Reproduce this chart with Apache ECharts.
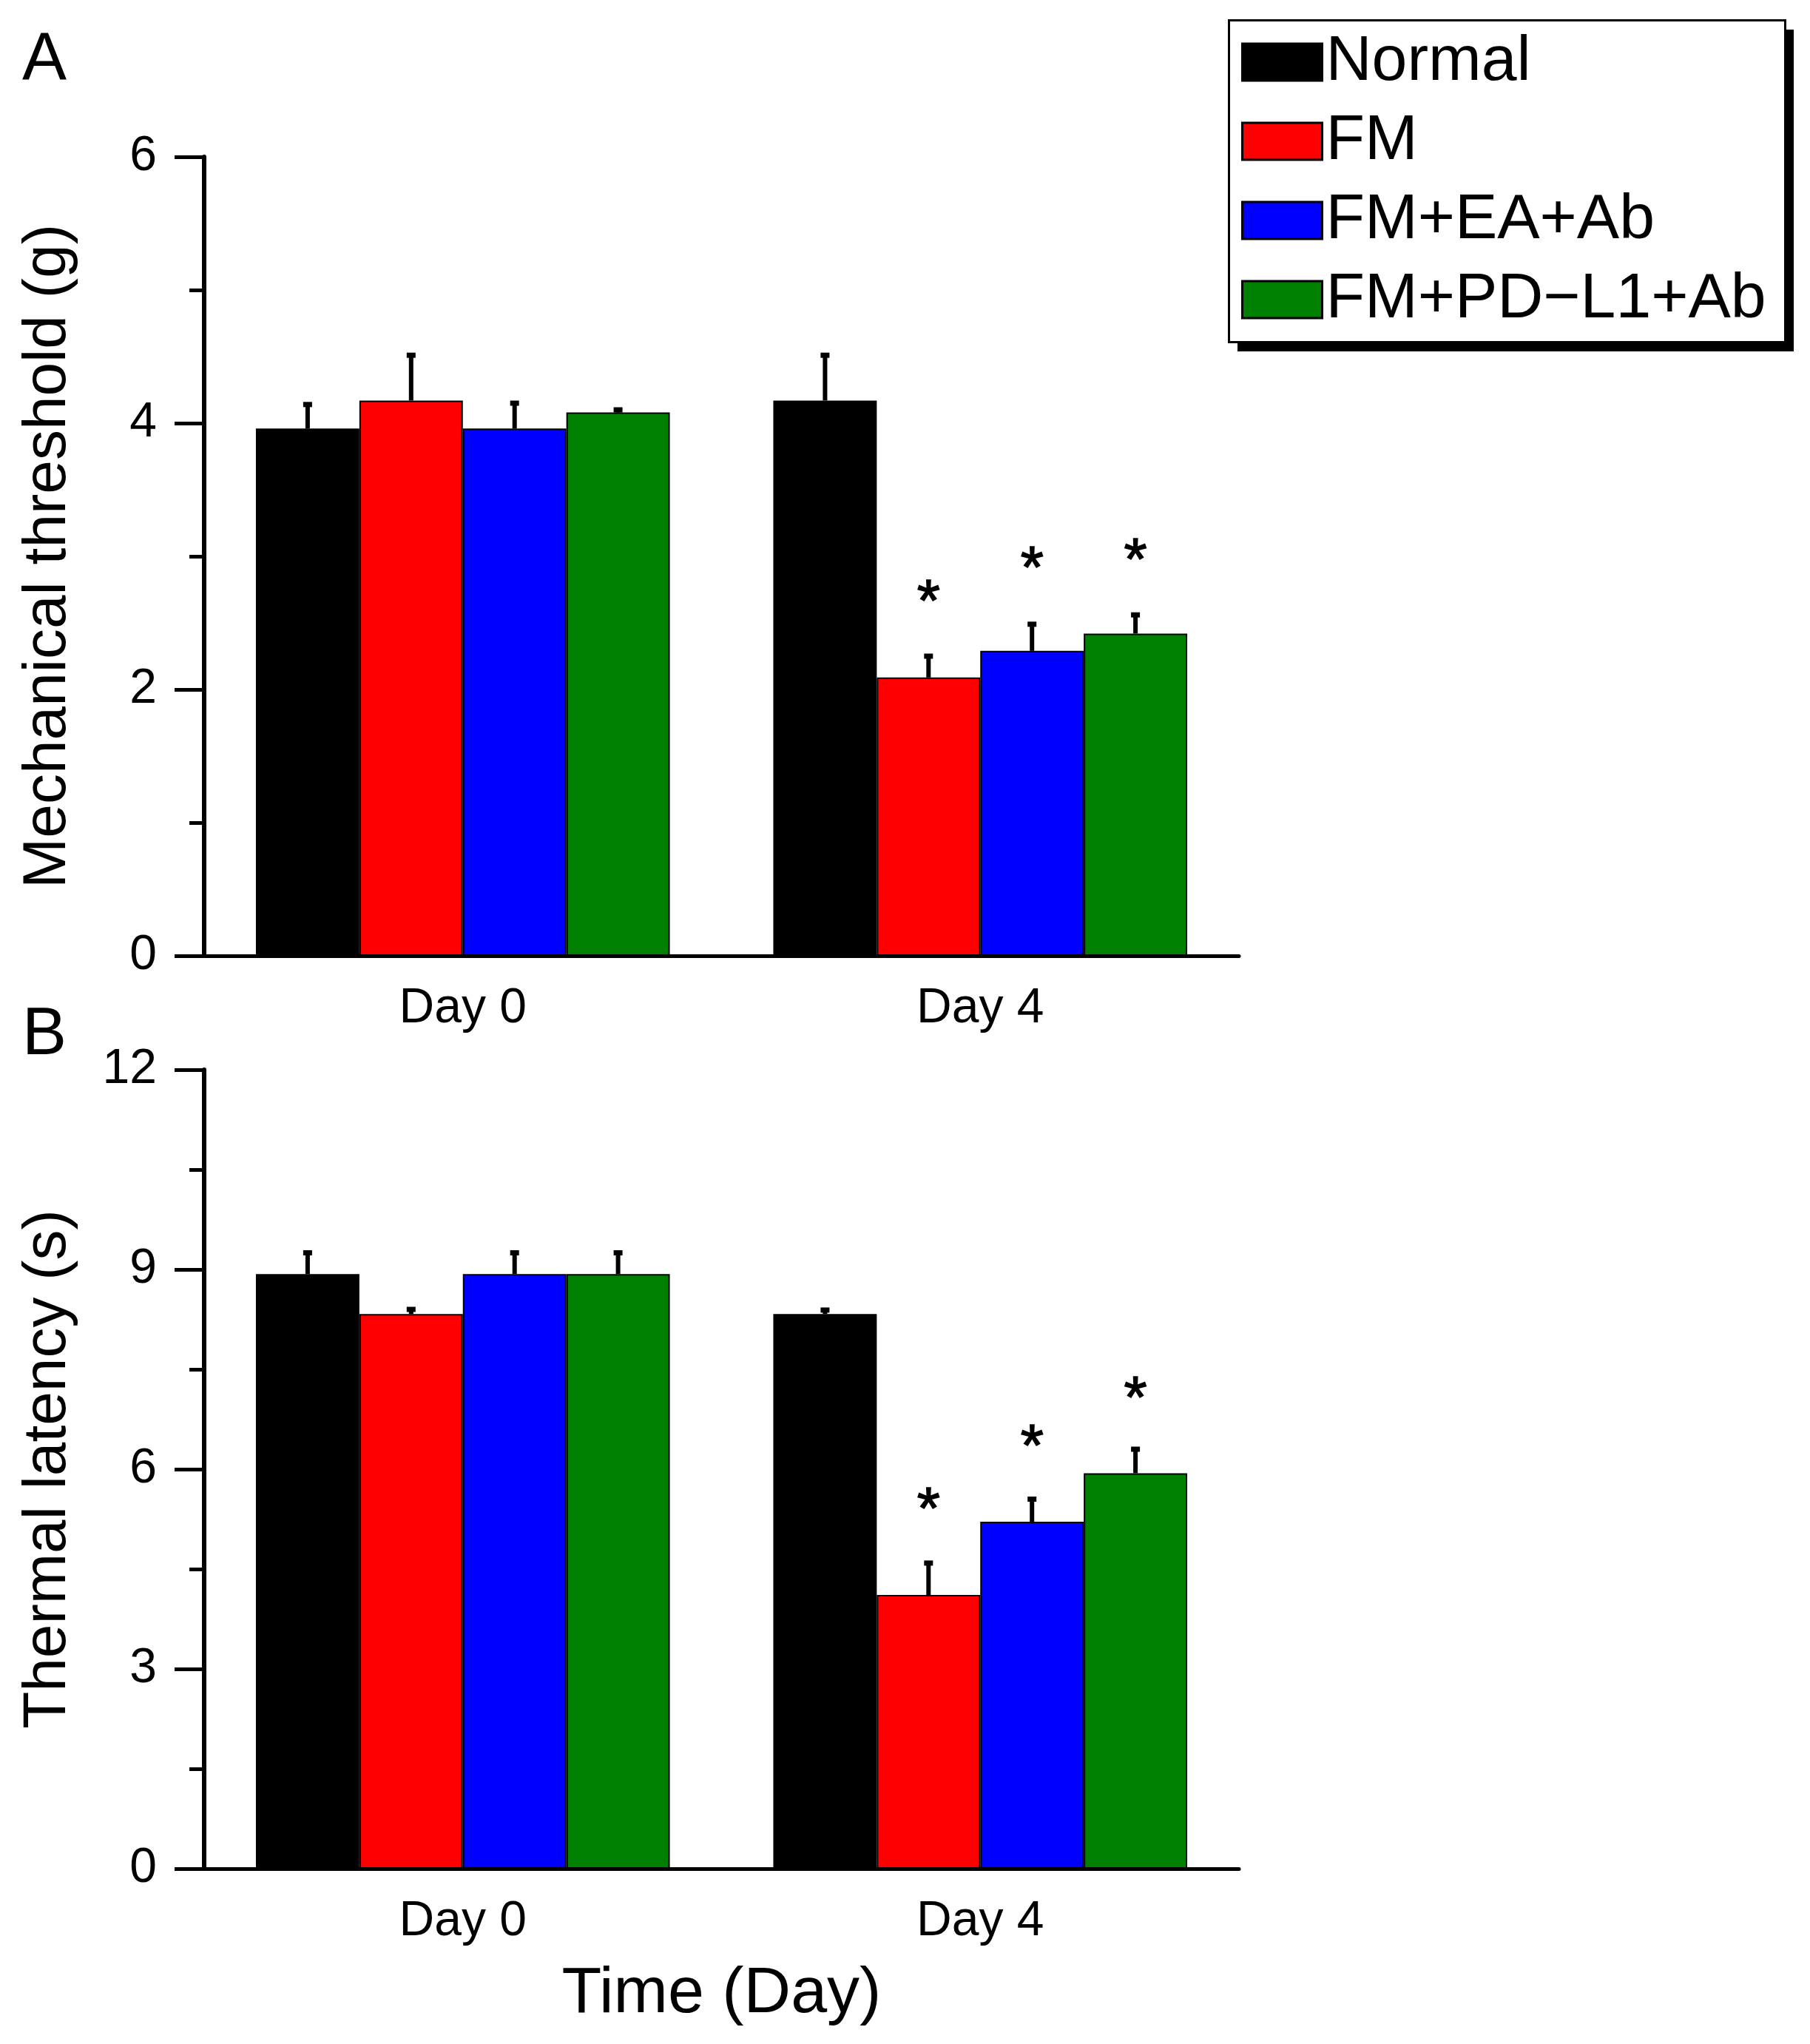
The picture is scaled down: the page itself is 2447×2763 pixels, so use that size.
<!DOCTYPE html>
<html><head><meta charset="utf-8">
<script src="https://cdn.jsdelivr.net/npm/echarts@6/dist/echarts.min.js"></script>
<style>html,body{margin:0;padding:0;background:#fff}#c{width:2447px;height:2763px}</style>
</head><body><div id="c"></div>
<script>
const categories = ['Day 0', 'Day 4'];
const seriesNames = ['Normal', 'FM', 'FM+EA+Ab', 'FM+PD\u2212L1+Ab'];
const colors = ['#000000', '#FF0000', '#0000FF', '#008000'];

// Panel A: Mechanical threshold (g)
const mechNormal = [3.96, 4.17];
const mechFM = [4.17, 2.09];
const mechEA = [3.96, 2.29];
const mechPD = [4.08, 2.42];
const mechNormalErr = [0.18, 0.34];
const mechFMErr = [0.34, 0.16];
const mechEAErr = [0.19, 0.20];
const mechPDErr = [0.02, 0.14];
const mechStars = [[1, 1, 2.76], [2, 1, 3.01], [3, 1, 3.07]]; // [seriesIdx, catIdx, y]

// Panel B: Thermal latency (s)
const thermNormal = [8.93, 8.33];
const thermFM = [8.33, 4.11];
const thermEA = [8.93, 5.21];
const thermPD = [8.93, 5.94];
const thermNormalErr = [0.32, 0.06];
const thermFMErr = [0.07, 0.48];
const thermEAErr = [0.32, 0.34];
const thermPDErr = [0.32, 0.36];
const thermStars = [[1, 1, 5.6], [2, 1, 6.55], [3, 1, 7.27]];

const FONT = "'Liberation Sans', Arial, sans-serif";
const chart = echarts.init(document.getElementById('c'), null, {renderer: 'canvas'});

const panels = [
  {means: [mechNormal, mechFM, mechEA, mechPD], errs: [mechNormalErr, mechFMErr, mechEAErr, mechPDErr], stars: mechStars},
  {means: [thermNormal, thermFM, thermEA, thermPD], errs: [thermNormalErr, thermFMErr, thermEAErr, thermPDErr], stars: thermStars}
];

function barOffset(api, idx) {
  const band = api.size([1, 0])[0];
  const bw = band * 0.8 / 4;
  return (idx - 1.5) * bw;
}

const series = [];
panels.forEach((p, g) => {
  p.means.forEach((m, i) => {
    series.push({
      name: seriesNames[i], type: 'bar', xAxisIndex: g, yAxisIndex: g,
      data: m, barGap: '0%', barCategoryGap: '20%',
      itemStyle: {color: colors[i], borderColor: '#000', borderWidth: 2},
      emphasis: {disabled: true}, z: 2
    });
  });
  p.means.forEach((m, i) => {
    series.push({
      name: 'err' + g + '_' + i, type: 'custom', xAxisIndex: g, yAxisIndex: g, z: 4,
      data: m.map((v, k) => [k, v, p.errs[i][k]]),
      renderItem: (params, api) => {
        const c = api.coord([api.value(0), api.value(1)]);
        const t = api.coord([api.value(0), api.value(1) + api.value(2)]);
        const x = c[0] + barOffset(api, i);
        return {type: 'group', children: [
          {type: 'line', shape: {x1: x, y1: c[1], x2: x, y2: t[1]}, style: {stroke: '#000', lineWidth: 6}},
          {type: 'line', shape: {x1: x - 6, y1: t[1], x2: x + 6, y2: t[1]}, style: {stroke: '#000', lineWidth: 7}}
        ]};
      }
    });
  });
  series.push({
    name: 'stars' + g, type: 'custom', xAxisIndex: g, yAxisIndex: g, z: 5,
    data: p.stars.map(s => [s[1], s[2], s[0]]),
    renderItem: (params, api) => {
      const c = api.coord([api.value(0), api.value(1)]);
      const x = c[0] + barOffset(api, api.value(2));
      return {type: 'text', style: {text: '*', x: x, y: c[1] + 22, align: 'center', verticalAlign: 'middle',
        font: '80px ' + FONT, fill: '#000', stroke: '#000', lineWidth: 1.5}};
    }
  });
});

function valueAxis(g, max, interval, name) {
  return {
    type: 'value', gridIndex: g, min: 0, max: max, interval: interval,
    name: name, nameLocation: 'middle', nameGap: 170, nameRotate: 90,
    nameTextStyle: {fontSize: 82, fontFamily: FONT, color: '#000'},
    axisLine: {show: true, lineStyle: {color: '#000', width: 6}},
    axisTick: {show: true, length: 40, lineStyle: {color: '#000', width: 5}},
    minorTick: {show: true, splitNumber: 2, length: 20, lineStyle: {color: '#000', width: 5}},
    splitLine: {show: false},
    axisLabel: {fontSize: 66, fontFamily: FONT, color: '#000', margin: 64}
  };
}

function catAxis(g, name) {
  return {
    type: 'category', gridIndex: g, data: categories,
    name: name, nameLocation: 'middle', nameGap: 126,
    nameTextStyle: {fontSize: 88, fontFamily: FONT, color: '#000'},
    axisLine: {show: true, lineStyle: {color: '#000', width: 5}},
    axisTick: {show: false},
    axisLabel: {fontSize: 66, fontFamily: FONT, color: '#000', margin: 39}
  };
}

chart.setOption({
  animation: false,
  backgroundColor: '#fff',
  title: [
    {text: 'A', left: 30, top: 37, padding: 0, textStyle: {fontSize: 90, fontWeight: 'normal', fontFamily: FONT, color: '#000'}},
    {text: 'B', left: 30, top: 1355, padding: 0, textStyle: {fontSize: 90, fontWeight: 'normal', fontFamily: FONT, color: '#000'}}
  ],
  graphic: [
    {type: 'rect', left: 1673, top: 40, z: 0, shape: {width: 752, height: 435}, style: {fill: '#000'}},
    {type: 'rect', left: 1660, top: 26, z: 1, shape: {width: 752, height: 435}, style: {fill: '#fff', stroke: '#000', lineWidth: 3}}
  ],
  legend: {
    data: seriesNames, orient: 'vertical', left: 1660, top: 26, z: 10,
    padding: [15, 18, 15, 18], itemWidth: 108, itemHeight: 50, itemGap: 21, itemTextGap: 22,
    icon: 'rect', selectedMode: false,
    itemStyle: {borderColor: '#000', borderWidth: 3},
    textStyle: {fontSize: 86, fontFamily: FONT, color: '#000'}
  },
  grid: [
    {left: 276, top: 212, width: 1399, height: 1080},
    {left: 276, top: 1446, width: 1399, height: 1080}
  ],
  xAxis: [catAxis(0, ''), catAxis(1, 'Time (Day)')],
  yAxis: [valueAxis(0, 6, 2, 'Mechanical threshold (g)'), valueAxis(1, 12, 3, 'Thermal latency (s)')],
  series: series
});
</script></body></html>
